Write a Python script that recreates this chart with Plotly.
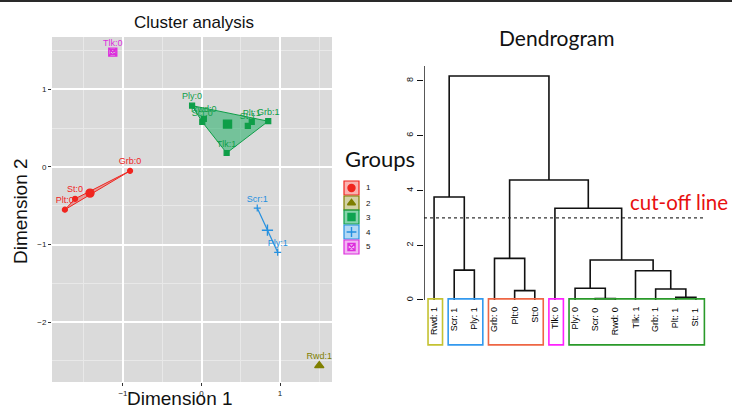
import plotly.graph_objects as go

W, H = 732, 408

# ---------------- cluster map data ----------------
point_labels = ["Grb:0", "Plt:0", "St:0", "Rwd:1", "Ply:0", "Scr:0", "Rwd:0",
                "Tlk:1", "Grb:1", "Plt:1", "St:1", "Scr:1", "Ply:1", "Tlk:0"]
dim1 = [-0.91, -1.74, -1.61, 1.50, -0.12, 0.01, 0.03, 0.32, 0.85, 0.64, 0.59, 0.71, 0.97, -1.13]
dim2 = [-0.05, -0.55, -0.41, -2.56, 0.79, 0.58, 0.62, 0.18, 0.59, 0.58, 0.53, -0.53, -1.10, 1.48]
point_group = [1, 1, 1, 2, 3, 3, 3, 3, 3, 3, 3, 4, 4, 5]

group_ids = [1, 2, 3, 4, 5]
group_colors = ["#F0251F", "#7F7F00", "#0E9E48", "#2490E0", "#DD2EDD"]
group_fills = ["rgba(240,37,31,0.35)", "rgba(127,127,0,0.35)", "rgba(14,170,90,0.5)",
               "rgba(36,144,224,0.35)", "rgba(221,46,221,0.35)"]
group_symbols = ["circle", "triangle-up", "square", "cross-thin-open", "square-x-open"]

# ---------------- dendrogram data ----------------
leaf_names = ["Rwd: 1", "Scr: 1", "Ply: 1", "Grb: 0", "Plt:0", "St:0", "Tlk: 0",
              "Ply: 0", "Scr: 0", "Rwd: 0", "Tlk: 1", "Grb: 1", "Plt: 1", "St: 1"]
# hclust-style merge table: negative = leaf number, positive = earlier merge
merge_a = [-9, -13, -5, -12, -8, -11, -2, 5, -4, -7, -1, 9, 11]
merge_b = [-10, -14, -6, 2, 1, 4, -3, 6, 3, 8, 7, 10, 12]
merge_h = [0.05, 0.10, 0.34, 0.40, 0.43, 1.07, 1.09, 1.46, 1.52, 3.35, 3.76, 4.38, 8.18]
cut_height = 3.0
leaf_group = [2, 4, 4, 1, 1, 1, 5, 3, 3, 3, 3, 3, 3, 3]
box_colors = {1: "#EE6644", 2: "#C4C232", 3: "#2A9A2A", 4: "#3399EE", 5: "#FF22FF"}
dendro_ticks = [0, 2, 4, 6, 8]

FONT = "Liberation Sans"
CAL = "Lato"

fig = go.Figure()

# ---------------- left panel: cluster plot ----------------
def convex_hull(pts):
    pts = sorted(set(pts))
    if len(pts) <= 2:
        return pts
    def cross(o, a, b):
        return (a[0] - o[0]) * (b[1] - o[1]) - (a[1] - o[1]) * (b[0] - o[0])
    lower, upper = [], []
    for p in pts:
        while len(lower) >= 2 and cross(lower[-2], lower[-1], p) <= 0:
            lower.pop()
        lower.append(p)
    for p in reversed(pts):
        while len(upper) >= 2 and cross(upper[-2], upper[-1], p) <= 0:
            upper.pop()
        upper.append(p)
    return lower[:-1] + upper[:-1]

for g, col, fillc, sym in zip(group_ids, group_colors, group_fills, group_symbols):
    idx = [i for i, pg in enumerate(point_group) if pg == g]
    xs = [dim1[i] for i in idx]
    ys = [dim2[i] for i in idx]
    hull = convex_hull(list(zip(xs, ys)))
    if len(hull) >= 3:
        hx = [p[0] for p in hull] + [hull[0][0]]
        hy = [p[1] for p in hull] + [hull[0][1]]
        fig.add_trace(go.Scatter(x=hx, y=hy, mode="lines", fill="toself",
                                 fillcolor=fillc, line=dict(color=col, width=1),
                                 hoverinfo="skip", showlegend=False, xaxis="x", yaxis="y"))
    elif len(hull) == 2:
        fig.add_trace(go.Scatter(x=[p[0] for p in hull], y=[p[1] for p in hull],
                                 mode="lines", line=dict(color=col, width=1.2),
                                 hoverinfo="skip", showlegend=False, xaxis="x", yaxis="y"))
    # individual points with labels
    fig.add_trace(go.Scatter(
        x=xs, y=ys, mode="markers+text",
        text=[point_labels[i] for i in idx], textposition="top center",
        textfont=dict(family=FONT, size=9, color=col),
        marker=dict(symbol=sym, size=5, color=col, line=dict(color=col, width=1.2)),
        showlegend=False, xaxis="x", yaxis="y"))
    # cluster centre
    cx = sum(xs) / len(xs)
    cy = sum(ys) / len(ys)
    fig.add_trace(go.Scatter(
        x=[cx], y=[cy], mode="markers",
        marker=dict(symbol=sym, size=8, color=col, line=dict(color=col, width=1.4)),
        showlegend=False, xaxis="x", yaxis="y"))

# ---------------- right panel: dendrogram ----------------
node_x, node_h = {}, {}
def pos(ref):
    if ref < 0:
        return float(-ref), 0.0
    return node_x[ref], node_h[ref]

seg_x, seg_y = [], []
for k, (a, b, h) in enumerate(zip(merge_a, merge_b, merge_h), start=1):
    xa, ha = pos(a)
    xb, hb = pos(b)
    seg_x += [xa, xa, xb, xb, None]
    seg_y += [ha, h, h, hb, None]
    node_x[k] = (xa + xb) / 2
    node_h[k] = h

fig.add_trace(go.Scatter(x=seg_x, y=seg_y, mode="lines",
                         line=dict(color="#111111", width=1.6),
                         hoverinfo="skip", showlegend=False, xaxis="x2", yaxis="y2"))

n_leaves = len(leaf_names)
fig.add_trace(go.Scatter(x=[0.5, n_leaves + 0.5], y=[cut_height, cut_height], mode="lines",
                         line=dict(color="#333333", width=1.2, dash="dot"),
                         hoverinfo="skip", showlegend=False, xaxis="x2", yaxis="y2"))

shapes = []
annotations = []

# y axis line of the dendrogram
shapes.append(dict(type="line", xref="x2", yref="y2", x0=0.5, x1=0.5, y0=0, y1=8.55,
                   line=dict(color="#111111", width=1.4)))

# coloured boxes around the leaf labels
start = 0
while start < n_leaves:
    end = start
    while end + 1 < n_leaves and leaf_group[end + 1] == leaf_group[start]:
        end += 1
    shapes.append(dict(type="rect", xref="x2", yref="y2",
                       x0=start + 1 - 0.3, x1=end + 1 + 0.42, y0=0.04, y1=-1.64,
                       line=dict(color=box_colors[leaf_group[start]], width=1.6)))
    start = end + 1

for i, name in enumerate(leaf_names, start=1):
    annotations.append(dict(x=i, y=0, xref="x2", yref="y2", text=name, showarrow=False,
                            textangle=-90, xanchor="center", yanchor="top", yshift=-5,
                            font=dict(family=FONT, size=9, color="#000000")))

# ---------------- backgrounds and frame ----------------
shapes.append(dict(type="rect", xref="x domain", yref="y domain", x0=0, x1=1, y0=0, y1=1,
                   fillcolor="#DADADA", line=dict(width=0), layer="below"))
shapes.append(dict(type="rect", xref="paper", yref="paper", x0=0, x1=1,
                   y0=1 - 2 / H, y1=1, fillcolor="#2A2A2A", line=dict(width=0)))

# ---------------- legend "Groups" ----------------
leg_y = [188, 203, 217, 232, 247]
for g, col, fillc, sym, ly in zip(group_ids, group_colors, group_fills, group_symbols, leg_y):
    shapes.append(dict(type="rect", xref="x3", yref="y3", x0=344, x1=359, y0=ly - 7, y1=ly + 7,
                       fillcolor=fillc, line=dict(color=col, width=1.2)))
    annotations.append(dict(x=364 / W, y=1 - ly / H, xref="paper", yref="paper", text=str(g),
                            showarrow=False, xanchor="left", yanchor="middle",
                            font=dict(family=FONT, size=8, color="#111111")))
fig.add_trace(go.Scatter(x=[351.5] * 5, y=leg_y, mode="markers",
                         marker=dict(symbol=group_symbols, size=7, color=group_colors,
                                     line=dict(color=group_colors, width=1.4)),
                         hoverinfo="skip", showlegend=False, xaxis="x3", yaxis="y3"))

# ---------------- titles ----------------
annotations += [
    dict(x=194 / W, y=1 - 22 / H, text="Cluster analysis",
         font=dict(family=FONT, size=17, color="#111111")),
    dict(x=180 / W, y=1 - 398 / H, text="Dimension 1",
         font=dict(family=FONT, size=19, color="#111111")),
    dict(x=20 / W, y=1 - 211 / H, text="Dimension 2", textangle=-90,
         font=dict(family=FONT, size=19, color="#111111")),
    dict(x=343 / W, y=1 - 159 / H, text="Groups", xanchor="left",
         font=dict(family=CAL, size=22, color="#111111")),
    dict(x=557 / W, y=1 - 37 / H, text="Dendrogram",
         font=dict(family=CAL, size=21, color="#111111")),
    dict(x=628 / W, y=1 - 202 / H, text="cut-off line", xanchor="left",
         font=dict(family=CAL, size=20.5, color="#E81010")),
]
for a in annotations:
    a.setdefault("xref", "paper")
    a.setdefault("yref", "paper")
    a.setdefault("showarrow", False)
    a.setdefault("xanchor", "center")
    a.setdefault("yanchor", "middle")

fig.update_layout(
    width=W, height=H, margin=dict(l=0, r=0, t=0, b=0),
    paper_bgcolor="white", plot_bgcolor="rgba(0,0,0,0)",
    showlegend=False,
    xaxis=dict(domain=[52 / W, 332 / W], range=[-1.904, 1.662], tickvals=[-1, 0, 1],
               showgrid=True, gridcolor="white", gridwidth=1.5, zeroline=False,
               minor=dict(dtick=0.5, tick0=0, showgrid=True, gridcolor="#E8E8E8", gridwidth=0.8),
               ticks="outside", ticklen=3, tickcolor="#333333",
               tickfont=dict(family=FONT, size=8, color="#1A1A1A"), anchor="y"),
    yaxis=dict(domain=[1 - 382 / H, 1 - 37 / H], range=[-2.771, 1.675], tickvals=[-2, -1, 0, 1],
               showgrid=True, gridcolor="white", gridwidth=1.5, zeroline=False,
               minor=dict(dtick=0.5, tick0=0, showgrid=True, gridcolor="#E8E8E8", gridwidth=0.8),
               ticks="outside", ticklen=3, tickcolor="#333333",
               tickfont=dict(family=FONT, size=8, color="#1A1A1A"), anchor="x"),
    xaxis2=dict(domain=[424 / W, 706 / W], range=[0.5, n_leaves + 0.5], visible=False, anchor="y2"),
    yaxis2=dict(domain=[1 - 352 / H, 1 - 65.9 / H], range=[-1.9, 8.55], tickvals=dendro_ticks,
                showgrid=False, zeroline=False, showline=False, ticks="outside", ticklen=6,
                tickcolor="#111111", tickwidth=1.2, tickangle=-90,
                tickfont=dict(family=FONT, size=9, color="#111111"), anchor="x2"),
    xaxis3=dict(domain=[0, 1], range=[0, W], visible=False, anchor="y3"),
    yaxis3=dict(domain=[0, 1], range=[H, 0], visible=False, anchor="x3"),
    shapes=shapes, annotations=annotations,
)

fig.write_html("out.html")
